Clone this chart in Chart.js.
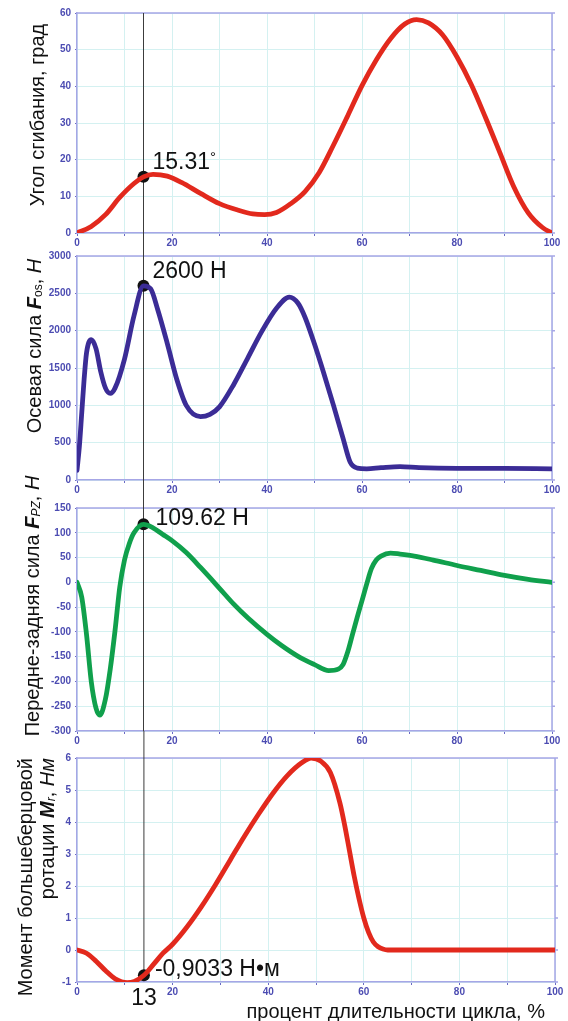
<!DOCTYPE html>
<html lang="ru">
<head>
<meta charset="utf-8">
<title>Угол сгибания, силы и момент</title>
<script src="https://cdn.jsdelivr.net/npm/chart.js@4.4.1/dist/chart.umd.min.js"></script>
<style>
  html, body { margin: 0; padding: 0; background: #fff; }
  #wrap { position: relative; width: 568px; height: 1021px; overflow: hidden; }
  #wrap canvas { position: absolute; left: 0; top: 0; }
</style>
</head>
<body>
<div id="wrap">
  <canvas id="c-angle" width="568" height="1021"></canvas>
  <canvas id="c-axial" width="568" height="1021"></canvas>
  <canvas id="c-ap" width="568" height="1021"></canvas>
  <canvas id="c-moment" width="568" height="1021"></canvas>
</div>
<script>
/* ------------------------------------------------------------------
   Данные, x = процент длительности цикла
------------------------------------------------------------------ */
const MARK_X = 14;

const angleX = [0, 3, 6, 9, 12, 14, 16, 19, 22, 26, 30, 34, 37, 39.5, 42, 45, 48, 51, 54, 57, 60, 63, 66, 69, 71.5, 74, 77, 80, 83, 86, 89, 92, 95, 98, 100];
const angleY = [0, 1.8, 5, 9.7, 13.5, 15.31, 16, 15.5, 13.8, 10.8, 8, 6.2, 5.2, 5, 5.6, 8, 11.3, 16.5, 24, 32, 40.2, 47.2, 53, 57, 58.2, 57.3, 54, 48, 40.5, 31.5, 22, 12.5, 5.5, 1.5, 0];

const axialX = [0, 0.5, 1, 1.5, 2, 3, 4, 5, 6, 7, 8, 10, 12, 14, 15.5, 17, 19, 21, 23, 26, 28, 30, 33, 36, 39, 42, 44.7, 46.5, 48, 50, 52, 54, 56, 57.5, 59, 61, 64, 68, 72, 80, 90, 100];
const axialY = [130, 450, 900, 1350, 1700, 1880, 1760, 1450, 1230, 1160, 1230, 1620, 2200, 2600, 2560, 2280, 1830, 1350, 1000, 850, 880, 980, 1280, 1640, 2000, 2300, 2450, 2370, 2180, 1820, 1420, 1000, 560, 240, 160, 150, 165, 180, 165, 155, 155, 150];

const apX = [0, 1, 2, 3, 4, 4.8, 6, 7, 8, 9, 10, 11, 12, 14, 16, 18, 20, 23, 26, 30, 33, 36, 40, 43, 47, 50, 53, 55, 56, 57, 58, 59, 60, 61, 62, 63, 64, 66, 68, 71, 75, 80, 85, 90, 95, 100];
const apY = [0, -30, -105, -200, -254, -268, -235, -175, -98, -10, 45, 78, 100, 117, 110, 97, 84, 60, 30, -12, -44, -72, -105, -127, -152, -166, -178, -175, -166, -140, -105, -70, -37, -3, 28, 45, 53, 59, 57, 53, 45, 34, 24, 14, 6, 0];

const momentX = [0, 2, 4, 6, 8, 10.5, 12, 14, 16, 18, 20, 23, 26, 29, 32, 35, 38, 41, 44, 47, 49, 51, 53, 55, 56, 57, 58, 59, 60, 61, 62, 63, 64, 65, 66, 70, 80, 90, 100];
const momentY = [0, -0.1, -0.35, -0.65, -0.9, -1.02, -0.98, -0.79, -0.45, -0.1, 0.18, 0.72, 1.35, 2.05, 2.8, 3.55, 4.25, 4.9, 5.45, 5.85, 6, 5.9, 5.55, 4.6, 3.9, 3.1, 2.3, 1.6, 1.0, 0.55, 0.25, 0.1, 0.03, 0, 0, 0, 0, 0, 0];

// точки-маркеры на вертикальной линии
const markY = { angle: 15.31, axial: 2600, ap: 117, moment: -0.79 };

/* ------------------------------------------------------------------
   Стиль
------------------------------------------------------------------ */
const FONT = '"Liberation Sans", Arial, sans-serif';
const AXIS = "#a6a6e6";
const GRID = "#d4f1f1";
const TICK_TXT = "#4c4cb2";
const N  = sz => `${sz}px ${FONT}`;
const BI = sz => `italic bold ${sz}px ${FONT}`;
const I  = sz => `italic ${sz}px ${FONT}`;

function partsWidth(ctx, parts) {
    let w = 0;
    parts.forEach(p => { ctx.font = p.f; w += ctx.measureText(p.t).width; });
    return w;
}

function drawParts(ctx, parts, x, y) {
    parts.forEach(p => {
        ctx.font = p.f;
        ctx.fillText(p.t, x, y + (p.dy || 0));
        x += ctx.measureText(p.t).width;
    });
}

// вертикальная подпись оси Y (одна или несколько строк)
function drawYTitle(ctx, t) {
    ctx.save();
    ctx.fillStyle = "#111";
    ctx.textBaseline = "middle";
    ctx.textAlign = "left";
    t.lines.forEach(line => {
        const w = partsWidth(ctx, line.parts);
        ctx.save();
        ctx.translate(line.cx, t.anchorY);
        ctx.rotate(-Math.PI / 2);
        const start = t.align === "end" ? -w : -w / 2;
        drawParts(ctx, line.parts, start, 0);
        ctx.restore();
    });
    ctx.restore();
}

/* ------------------------------------------------------------------
   Построение одной панели
------------------------------------------------------------------ */
function makePanel(canvasId, p) {

    const decor = {
        id: "decor",
        beforeDatasetsDraw(chart) {
            const { ctx, chartArea: a, scales: { x, y } } = chart;
            ctx.save();
            // верх и правая граница рамки + риски справа
            ctx.strokeStyle = AXIS;
            ctx.lineWidth = 1.5;
            ctx.beginPath();
            ctx.moveTo(a.left, a.top);
            ctx.lineTo(a.right, a.top);
            ctx.lineTo(a.right, a.bottom);
            y.ticks.forEach(t => {
                const py = y.getPixelForValue(t.value);
                ctx.moveTo(a.right, py);
                ctx.lineTo(a.right + 3, py);
            });
            ctx.stroke();

            // вертикальная линия через все графики
            const mx = x.getPixelForValue(MARK_X);
            const top = p.lineTop == null ? a.top : p.lineTop;
            const bottom = p.lineToDot ? y.getPixelForValue(p.dotY) : a.bottom;
            ctx.strokeStyle = "#3c3c3c";
            ctx.lineWidth = 1;
            ctx.beginPath();
            ctx.moveTo(mx, top);
            ctx.lineTo(mx, bottom);
            ctx.stroke();
            ctx.restore();
        },
        afterDraw(chart) {
            const { ctx, chartArea: a, scales: { x, y } } = chart;
            drawYTitle(ctx, p.title);

            ctx.save();
            ctx.fillStyle = "#111";
            ctx.textBaseline = "middle";
            ctx.textAlign = "left";
            const px = x.getPixelForValue(MARK_X);
            const py = y.getPixelForValue(p.dotY);
            drawParts(ctx, p.note, px + p.noteDx, py + p.noteDy);

            if (p.bottomTexts) {
                ctx.font = N(23);
                ctx.textAlign = "center";
                ctx.fillText(String(p.markLabel), px, a.bottom + 17);
                ctx.font = N(20);
                ctx.textAlign = "right";
                ctx.fillText(p.xTitle, p.xTitleRight, a.bottom + 30);
            }
            ctx.restore();
        }
    };

    return new Chart(document.getElementById(canvasId), {
        type: "line",
        data: {
            datasets: [
                {
                    data: p.xs.map((v, i) => ({ x: v, y: p.ys[i] })),
                    borderColor: p.color,
                    borderWidth: 4.8,
                    borderCapStyle: "round",
                    borderJoinStyle: "round",
                    pointRadius: 0,
                    cubicInterpolationMode: "monotone",
                    fill: false
                },
                {
                    data: [{ x: MARK_X, y: p.dotY }],
                    showLine: false,
                    pointRadius: 6,
                    pointBackgroundColor: "#111",
                    pointBorderWidth: 0,
                    clip: false
                }
            ]
        },
        options: {
            responsive: false,
            animation: false,
            events: [],
            layout: {
                padding: { left: 0, top: p.top, right: 568 - p.right, bottom: 1021 - p.bottom - 15 }
            },
            plugins: { legend: { display: false }, tooltip: { enabled: false } },
            scales: {
                x: {
                    type: "linear",
                    min: 0, max: 100,
                    afterFit: s => { s.height = 15; },
                    border: { color: AXIS, width: 1.5 },
                    grid: { color: GRID, lineWidth: 1, tickColor: "#6a6ac4", tickLength: 3 },
                    ticks: {
                        stepSize: 10, autoSkip: false, maxRotation: 0, padding: 1,
                        color: TICK_TXT, font: { family: FONT, size: 10, weight: "bold" },
                        callback: v => (v % 20 === 0 ? String(v) : "")
                    }
                },
                y: {
                    min: p.yMin, max: p.yMax,
                    afterFit: s => { s.width = 77; },
                    border: { color: AXIS, width: 1.5 },
                    grid: { color: GRID, lineWidth: 1, tickColor: "#6a6ac4", tickLength: 2 },
                    ticks: {
                        stepSize: p.yStep, autoSkip: false, padding: 4,
                        color: TICK_TXT, font: { family: FONT, size: 10, weight: "bold" },
                        callback: v => String(v)
                    }
                }
            }
        },
        plugins: [decor]
    });
}

/* ------------------------------------------------------------------
   Четыре панели
------------------------------------------------------------------ */
makePanel("c-angle", {
    xs: angleX, ys: angleY, color: "#e2291d",
    yMin: 0, yMax: 60, yStep: 10,
    top: 13, bottom: 233, right: 552,
    lineTop: null, dotY: markY.angle,
    note: [{ t: "15.31", f: N(23) }, { t: "°", f: N(15), dy: -5 }], noteDx: 9, noteDy: -14,
    title: { align: "center", anchorY: 115, lines: [{ cx: 38, parts: [{ t: "Угол сгибания, град", f: N(20) }] }] }
});

makePanel("c-axial", {
    xs: axialX, ys: axialY, color: "#3b2c96",
    yMin: 0, yMax: 3000, yStep: 500,
    top: 256, bottom: 480, right: 552,
    lineTop: 233, dotY: markY.axial,
    note: [{ t: "2600 Н", f: N(23) }], noteDx: 9, noteDy: -14,
    title: {
        align: "center", anchorY: 346, lines: [{
            cx: 35, parts: [
                { t: "Осевая сила ", f: N(20) }, { t: "F", f: BI(20) }, { t: "os", f: N(12), dy: 4 },
                { t: ", ", f: N(20) }, { t: "Н", f: I(20) }
            ]
        }]
    }
});

makePanel("c-ap", {
    xs: apX, ys: apY, color: "#10a04c",
    yMin: -300, yMax: 150, yStep: 50,
    top: 508, bottom: 731, right: 552,
    lineTop: 480, dotY: markY.ap,
    note: [{ t: "109.62 Н", f: N(23) }], noteDx: 12, noteDy: -6,
    title: {
        align: "center", anchorY: 606, lines: [{
            cx: 33, parts: [
                { t: "Передне-задняя сила ", f: N(20) }, { t: "F", f: BI(20) }, { t: "PZ", f: I(12), dy: 4 },
                { t: ", ", f: N(20) }, { t: "Н", f: I(20) }
            ]
        }]
    }
});

makePanel("c-moment", {
    xs: momentX, ys: momentY, color: "#e2291d",
    yMin: -1, yMax: 6, yStep: 1,
    top: 758, bottom: 982, right: 555,
    lineTop: 731, lineToDot: true, dotY: markY.moment,
    note: [{ t: "-0,9033 Н•м", f: N(23) }], noteDx: 11, noteDy: -6,
    bottomTexts: true, markLabel: 13,
    xTitle: "процент длительности цикла, %", xTitleRight: 545,
    title: {
        align: "end", anchorY: 758, lines: [
            { cx: 26, parts: [{ t: "Момент большеберцовой", f: N(20) }] },
            {
                cx: 48, parts: [
                    { t: "ротации ", f: N(20) }, { t: "M", f: BI(20) }, { t: "r", f: I(12), dy: 4 },
                    { t: ", ", f: N(20) }, { t: "Нм", f: I(20) }
                ]
            }
        ]
    }
});
</script>
</body>
</html>
